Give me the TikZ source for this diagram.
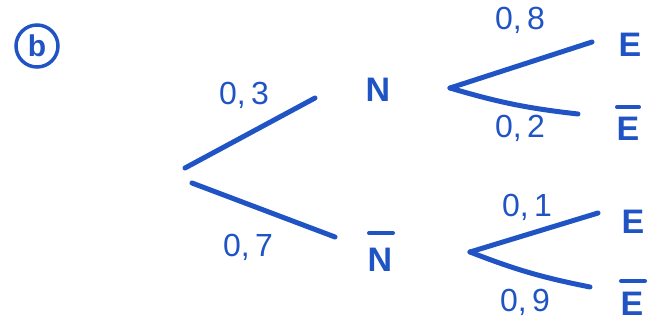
\documentclass[tikz,border=0pt]{standalone}
\usepackage{fontspec}
\setmainfont{Liberation Sans}
\definecolor{ink}{RGB}{32,84,196}
\tikzset{
  branch/.style={ink, line width=5pt, line cap=round},
  prob/.style={ink, font=\fontsize{32}{34}\selectfont, inner sep=0pt},
  event/.style={ink, font=\bfseries\fontsize{34}{36}\selectfont, inner sep=0pt},
  bar/.style={ink, line width=4pt, line cap=round}
}
\begin{document}
\begin{tikzpicture}[x=1pt,y=-1pt]
\useasboundingbox (0,0) rectangle (661,327);
% label b
\node[ink, circle, draw, line width=3.5pt, minimum size=42pt, inner sep=0pt,
      font=\bfseries\fontsize{30}{32}\selectfont] (lab) at (37,46) {b};
% level 1
\coordinate (r1) at (185,168);
\coordinate (r2) at (192,183);
\coordinate (n1) at (315,98);
\coordinate (n2) at (335,237);
\draw[branch] (r1) -- (n1);
\draw[branch] (r2) -- (n2);
\node[prob] (p03) at (244,95) {0,\,3};
\node[prob] (p07) at (248,247) {0,\,7};
\node[event] (N) at (378,90) {N};
\node[event] (Nb) at (380,260) {N};
\draw[bar] ([xshift=-11pt,yshift=27pt]Nb.center) -- ([xshift=13pt,yshift=27pt]Nb.center);
% level 2, upper
\coordinate (v1) at (450,88);
\coordinate (e1) at (592,42);
\coordinate (e2) at (578,114);
\draw[branch] (v1) -- (e1);
\draw[branch] (v1) to[bend right=5] (e2);
\node[prob] (p08) at (520,20) {0,\,8};
\node[prob] (p02) at (520,128) {0,\,2};
\node[event] (E1) at (630,45) {E};
\node[event] (E2) at (628,129) {E};
\draw[bar] ([xshift=-11pt,yshift=22pt]E2.center) -- ([xshift=11pt,yshift=22pt]E2.center);
% level 2, lower
\coordinate (v2) at (470,252);
\coordinate (e3) at (598,213);
\coordinate (e4) at (590,287);
\draw[branch] (v2) -- (e3);
\draw[branch] (v2) to[bend right=5] (e4);
\node[prob] (p01) at (527,207) {0,\,1};
\node[prob] (p09) at (525,302) {0,\,9};
\node[event] (E3) at (633,222) {E};
\node[event] (E4) at (632,304) {E};
\draw[bar] ([xshift=-11pt,yshift=23pt]E4.center) -- ([xshift=13pt,yshift=23pt]E4.center);
\end{tikzpicture}
\end{document}
